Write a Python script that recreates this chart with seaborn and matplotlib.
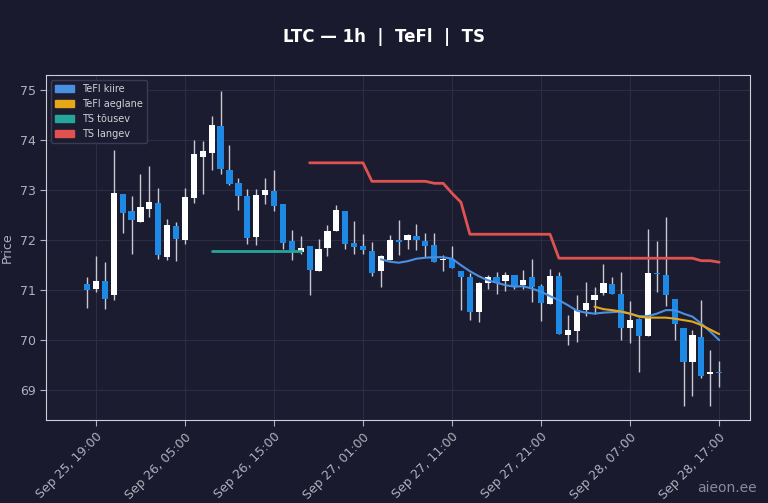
import matplotlib
matplotlib.use("Agg")
import matplotlib.pyplot as plt
import matplotlib.patches as mpatches
import numpy as np
import pandas as pd
import seaborn as sns

# hourly candles, Sep 25 18:00 .. Sep 28 17:00
opens = [71.13, 71.03, 71.18, 70.90, 72.93, 72.58, 72.37, 72.63, 72.75, 71.67,
         72.29, 72.01, 72.85, 73.67, 73.75, 74.29, 73.40, 73.15, 72.88, 72.07,
         72.90, 72.99, 72.73, 71.98, 71.77, 71.88, 71.39, 71.85, 72.19, 72.59,
         71.95, 71.88, 71.79, 71.38, 71.60, 72.01, 72.00, 72.08, 71.99, 71.90,
         71.60, 71.63, 71.38, 71.27, 70.57, 71.14, 71.27, 71.18, 71.30, 71.10,
         71.27, 71.08, 70.72, 71.28, 70.10, 70.19, 70.61, 70.80, 70.95, 71.12,
         70.92, 70.25, 70.43, 70.09, 71.34, 71.30, 70.83, 70.25, 69.57, 70.07,
         69.32, 69.36]
closes = [71.01, 71.18, 70.83, 72.95, 72.55, 72.40, 72.67, 72.76, 71.70, 72.31,
          72.03, 72.87, 73.73, 73.78, 74.30, 73.42, 73.12, 72.88, 72.05, 72.90,
          73.00, 72.68, 71.95, 71.80, 71.85, 71.41, 71.83, 72.19, 72.60, 71.92,
          71.87, 71.80, 71.35, 71.68, 72.00, 71.97, 72.10, 72.00, 71.89, 71.57,
          71.63, 71.45, 71.27, 70.57, 71.15, 71.27, 71.15, 71.30, 71.07, 71.21,
          71.07, 70.75, 71.28, 70.13, 70.21, 70.60, 70.75, 70.91, 71.15, 70.92,
          70.25, 70.41, 70.09, 71.35, 71.33, 70.90, 70.33, 69.57, 70.11, 69.28,
          69.36, 69.35]
highs = [71.27, 71.69, 71.57, 73.80, 72.93, 72.88, 73.32, 73.49, 73.05, 72.42,
         72.37, 73.05, 74.00, 73.99, 74.48, 74.99, 73.90, 73.25, 73.03, 73.03,
         73.25, 73.40, 72.73, 72.20, 72.09, 71.88, 72.02, 72.30, 72.70, 72.59,
         72.38, 72.12, 71.97, 71.70, 72.11, 72.41, 72.13, 72.32, 72.15, 72.15,
         71.70, 71.88, 71.38, 71.35, 71.17, 71.30, 71.37, 71.37, 71.30, 71.41,
         71.63, 71.12, 71.43, 71.37, 70.50, 70.90, 71.17, 71.07, 71.52, 71.27,
         71.37, 70.78, 70.45, 72.23, 71.98, 72.47, 70.83, 70.25, 70.21, 70.80,
         69.80, 69.58]
lows = [70.65, 70.97, 70.62, 70.80, 72.15, 71.73, 72.37, 72.47, 71.63, 71.61,
        71.58, 71.93, 72.75, 72.93, 73.40, 73.33, 73.10, 72.60, 71.93, 71.90,
        72.72, 72.59, 71.83, 71.60, 71.73, 70.90, 71.39, 71.68, 72.19, 71.83,
        71.73, 71.73, 71.29, 71.07, 71.60, 71.70, 71.83, 71.80, 71.67, 71.57,
        71.38, 71.45, 70.60, 70.41, 70.37, 71.03, 70.93, 70.99, 71.03, 71.03,
        70.77, 70.38, 70.72, 70.13, 69.90, 69.97, 70.48, 70.53, 70.90, 70.92,
        70.01, 69.95, 69.37, 70.09, 70.97, 70.69, 70.00, 68.68, 68.88, 69.25,
        68.68, 69.07]

tick_labels = ["Sep 25, 19:00", "Sep 26, 05:00", "Sep 26, 15:00", "Sep 27, 01:00",
               "Sep 27, 11:00", "Sep 27, 21:00", "Sep 28, 07:00", "Sep 28, 17:00"]

ts_up_start = 14
ts_up = [71.78] * 11
ts_down_start = 25
ts_down = [73.55, 73.55, 73.55, 73.55, 73.55, 73.55, 73.55, 73.18, 73.18, 73.18,
           73.18, 73.18, 73.18, 73.18, 73.14, 73.14, 72.94, 72.76, 72.12, 72.12,
           72.12, 72.12, 72.12, 72.12, 72.12, 72.12, 72.12, 72.12, 71.64, 71.64,
           71.64, 71.64, 71.64, 71.64, 71.64, 71.64, 71.64, 71.64, 71.64, 71.64,
           71.64, 71.64, 71.64, 71.64, 71.59, 71.59, 71.56]
fast_start = 33
fast = [71.62, 71.57, 71.55, 71.58, 71.63, 71.65, 71.66, 71.66, 71.63, 71.50,
        71.38, 71.28, 71.20, 71.15, 71.10, 71.07, 71.08, 71.03, 70.97, 70.88,
        70.80, 70.70, 70.59, 70.55, 70.53, 70.55, 70.56, 70.57, 70.53, 70.48,
        70.48, 70.53, 70.60, 70.60, 70.53, 70.47, 70.33, 70.17, 70.00]
slow_start = 57
slow = [70.67, 70.62, 70.60, 70.57, 70.53, 70.47, 70.45, 70.45, 70.45, 70.43,
        70.40, 70.37, 70.30, 70.21, 70.12]

BG = "#1a1a2e"
AX_BG = "#1c1c30"
BLUE = "#1e88e5"
FAST_C = "#4a90e2"
SLOW_C = "#e6a817"
UP_C = "#26a69a"
DOWN_C = "#e05252"

sns.set_style("dark", {"axes.facecolor": AX_BG, "figure.facecolor": BG,
                       "grid.color": "#2c2c44", "axes.edgecolor": "#cfcfd8"})
plt.rcParams["font.family"] = ["DejaVu Sans"]

df = pd.DataFrame({"o": opens, "c": closes, "h": highs, "l": lows})
df["i"] = np.arange(len(df))
df["up"] = df["c"] >= df["o"]
df["bottom"] = df[["o", "c"]].min(axis=1)
df["height"] = (df["c"] - df["o"]).abs().clip(lower=0.02)

fig, ax = plt.subplots(figsize=(7.68, 5.03), dpi=100)
fig.subplots_adjust(left=0.06, right=0.977, top=0.85, bottom=0.165)

ax.vlines(df["i"], df["l"], df["h"], color="#c8c8d0", linewidth=1.0, zorder=2)
colors = np.where(df["up"], "white", BLUE)
ax.bar(df["i"], df["height"], bottom=df["bottom"], width=0.7, color=colors,
       edgecolor="none", linewidth=0, zorder=3)

def series(start, vals):
    return pd.DataFrame({"x": np.arange(start, start + len(vals)), "y": vals})

sns.lineplot(data=series(ts_up_start, ts_up), x="x", y="y", ax=ax, color=UP_C, linewidth=2, zorder=4)
sns.lineplot(data=series(ts_down_start, ts_down), x="x", y="y", ax=ax, color=DOWN_C, linewidth=2, zorder=4)
sns.lineplot(data=series(fast_start, fast), x="x", y="y", ax=ax, color=FAST_C, linewidth=1.5, zorder=4)
sns.lineplot(data=series(slow_start, slow), x="x", y="y", ax=ax, color=SLOW_C, linewidth=1.5, zorder=4)

ax.set_xlim(-4.6, 74.5)
ax.set_ylim(68.4, 75.3)
ax.set_xticks(np.arange(1, 72, 10))
ax.set_xticklabels(tick_labels, rotation=45, ha="right", rotation_mode="anchor", color="#b0b0bc", fontsize=9)
ax.set_yticks([69, 70, 71, 72, 73, 74, 75])
ax.tick_params(axis="y", colors="#b0b0bc", labelsize=9)
ax.tick_params(axis="both", length=4, color="#b0b0bc", bottom=True, left=True)
ax.set_xlabel("")
ax.set_ylabel("Price", color="#b0b0bc", fontsize=9)
ax.grid(True, color="#2c2c44", linewidth=0.8)
for s in ax.spines.values():
    s.set_color("#cfcfd8")

handles = [mpatches.Patch(color=FAST_C, label="TeFl kiire"),
           mpatches.Patch(color=SLOW_C, label="TeFl aeglane"),
           mpatches.Patch(color=UP_C, label="TS tõusev"),
           mpatches.Patch(color=DOWN_C, label="TS langev")]
leg = ax.legend(handles=handles, loc="upper left", fontsize=7, facecolor=AX_BG,
                edgecolor="#3a3a55", labelcolor="#d0d0d8", framealpha=1)

fig.suptitle("LTC — 1h  |  TeFl  |  TS", color="white", fontsize=12, fontweight="bold", y=0.945)
fig.text(0.985, 0.015, "aieon.ee", color="#8a8a9a", fontsize=10, ha="right", va="bottom")

fig.savefig("out.png", dpi=100, facecolor=BG)
